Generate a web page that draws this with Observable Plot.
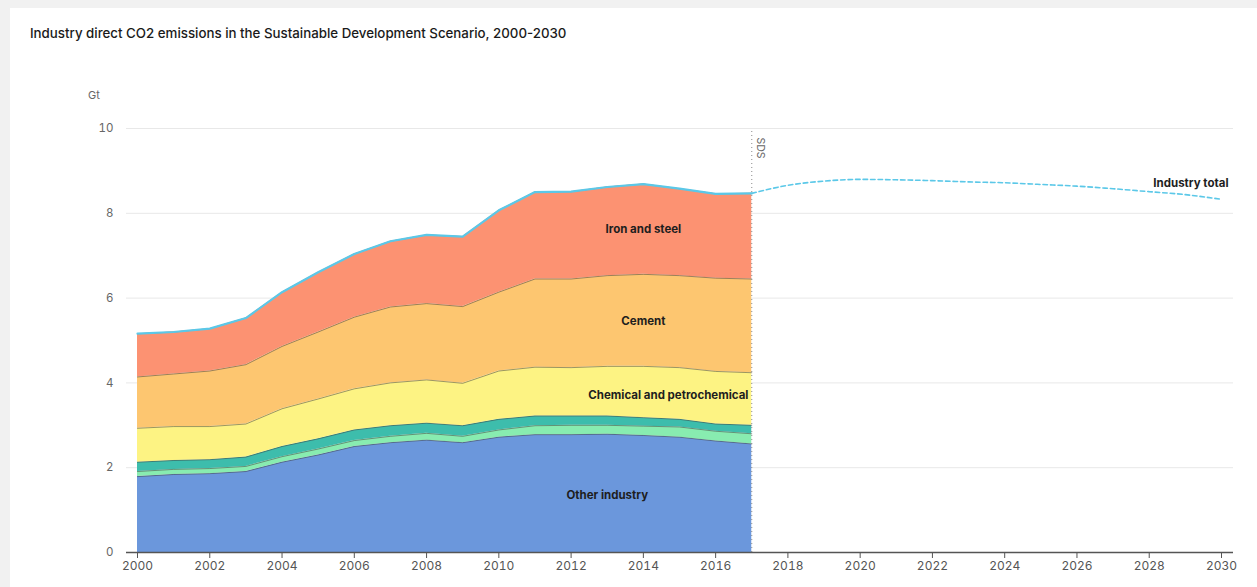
<!DOCTYPE html>
<html>
<head>
<meta charset="utf-8">
<script src="https://cdn.jsdelivr.net/npm/d3@7"></script>
<script src="https://cdn.jsdelivr.net/npm/@observablehq/plot@0.6"></script>
<style>
  html, body { margin: 0; padding: 0; width: 1257px; height: 587px; overflow: hidden; background: #f1f1f1; font-family: Inter, "Open Sans", sans-serif; }
  #card { position: absolute; left: 10px; top: 8px; right: 0; bottom: 0; background: #fff; }
  #chart { position: absolute; left: 0; top: 0; }
  #title { position: absolute; left: 30px; top: 25px; font-size: 13.3px; line-height: 16px; font-weight: 500; color: #1a1a1a; }
  #unit { position: absolute; left: 88px; top: 88px; font-size: 11px; line-height: 14px; color: #666; }
</style>
</head>
<body>
<div id="card"></div>
<div id="chart"></div>
<div id="title">Industry direct CO2 emissions in the Sustainable Development Scenario, 2000-2030</div>
<div id="unit">Gt</div>
<script>
// Historical years
const years = [2000, 2001, 2002, 2003, 2004, 2005, 2006, 2007, 2008, 2009,
               2010, 2011, 2012, 2013, 2014, 2015, 2016, 2017];

// Sectors, bottom of the stack first
const sectors = ["Other industry", "Aluminium", "Pulp and paper",
                 "Chemical and petrochemical", "Cement", "Iron and steel"];
const sectorColors = ["#6b97dc", "#88ecb0", "#3dbdac", "#fdf383", "#fdc670", "#fc9272"];

// Direct CO2 emissions by sector (Gt)
const otherIndustry = [1.79, 1.84, 1.86, 1.91, 2.13, 2.30, 2.50, 2.59, 2.65, 2.59,
                       2.72, 2.78, 2.78, 2.79, 2.76, 2.72, 2.63, 2.56];
const aluminium     = [0.12, 0.12, 0.12, 0.12, 0.13, 0.14, 0.14, 0.15, 0.16, 0.15,
                       0.17, 0.21, 0.22, 0.21, 0.22, 0.24, 0.23, 0.24];
const pulpPaper     = [0.22, 0.21, 0.21, 0.22, 0.24, 0.24, 0.25, 0.25, 0.24, 0.25,
                       0.25, 0.23, 0.22, 0.22, 0.20, 0.18, 0.17, 0.20];
const chemical      = [0.80, 0.80, 0.78, 0.78, 0.89, 0.94, 0.97, 1.01, 1.02, 1.00,
                       1.14, 1.15, 1.14, 1.17, 1.21, 1.22, 1.24, 1.24];
const cement        = [1.21, 1.24, 1.31, 1.40, 1.47, 1.58, 1.69, 1.79, 1.80, 1.81,
                       1.86, 2.08, 2.09, 2.14, 2.17, 2.17, 2.20, 2.21];
const ironSteel     = [1.02, 0.99, 1.00, 1.10, 1.28, 1.41, 1.49, 1.55, 1.62, 1.65,
                       1.93, 2.05, 2.06, 2.09, 2.13, 2.05, 1.99, 2.02];

// Sustainable Development Scenario pathway for the industry total (Gt)
const sdsYears = [2017, 2018, 2019, 2020, 2021, 2022, 2023, 2024, 2025, 2026, 2027, 2028, 2029, 2030];
const sdsTotal = [8.47, 8.66, 8.76, 8.80, 8.79, 8.77, 8.74, 8.72, 8.68, 8.64, 8.58, 8.51, 8.44, 8.33];

// Axis ticks
const xTicks = [2000, 2002, 2004, 2006, 2008, 2010, 2012, 2014, 2016, 2018,
                2020, 2022, 2024, 2026, 2028, 2030];
const yTicks = [0, 2, 4, 6, 8, 10];

// In-chart sector labels, the year they sit over and a small pixel nudge
const labelSectors = ["Iron and steel", "Cement", "Chemical and petrochemical", "Other industry"];
const labelYears   = [2014, 2014, 2014, 2013];
const labelDx      = [0, 0, 25, 0];
const labelDy      = [0, 1, 3, 2];

const series = [otherIndustry, aluminium, pulpPaper, chemical, cement, ironSteel];

const rows = [];
sectors.forEach((s, i) => years.forEach((yr, j) => rows.push({year: yr, sector: s, value: series[i][j]})));

const totals = years.map((yr, j) => ({year: yr, value: d3.sum(series, a => a[j])}));
const sds = sdsYears.map((yr, j) => ({year: yr, value: sdsTotal[j]}));

// Each label sits at the middle of its band in the stack
const labelMarks = labelSectors.map((s, k) => {
  const j = years.indexOf(labelYears[k]);
  const idx = sectors.indexOf(s);
  let base = 0;
  for (let i = 0; i < idx; i++) base += series[i][j];
  const datum = {text: s, year: labelYears[k], value: base + series[idx][j] / 2};
  return Plot.text([datum], {x: "year", y: "value", text: "text", dx: labelDx[k], dy: labelDy[k],
    fill: "#1e1e1e", fontWeight: 700, fontSize: 11.5});
});

const lineColor = "#5bc8e8";

const chart = Plot.plot({
  width: 1257,
  height: 587,
  marginLeft: 137,
  marginRight: 36,
  marginTop: 128,
  marginBottom: 35,
  style: {background: "transparent", fontFamily: "Inter, sans-serif", overflow: "visible"},
  x: {domain: [2000, 2030]},
  y: {domain: [0, 10]},
  color: {domain: sectors, range: sectorColors},
  marks: [
    Plot.ruleY(yTicks.filter(d => d > 0), {stroke: "#e8e8e8", strokeWidth: 1, insetLeft: -11, insetRight: -12}),
    Plot.areaY(rows, {x: "year", y: "value", z: "sector", fill: "sector", order: sectors}),
    Plot.lineY(rows, Plot.stackY2({x: "year", y: "value", z: "sector", order: sectors,
      stroke: "#404040", strokeOpacity: 0.65, strokeWidth: 0.8})),
    Plot.lineY(totals, {x: "year", y: "value", stroke: lineColor, strokeWidth: 2.2}),
    Plot.lineY(sds, {x: "year", y: "value", stroke: lineColor, strokeWidth: 1.6,
      strokeDasharray: "4.5,3", curve: "monotone-x"}),
    Plot.ruleX([2017], {y1: 0, y2: 10, stroke: "#8a8a8a", strokeWidth: 1, strokeDasharray: "1,3"}),
    Plot.text(["SDS"], {x: 2017, y: 10, text: d => d, rotate: 90, textAnchor: "start",
      dx: 9, dy: 9, fill: "#666", fontSize: 10.5}),
    Plot.axisY({ticks: yTicks, tickSize: 0, tickPadding: 24, label: null,
      fill: "#666", fontSize: 11.5}),
    Plot.axisX({ticks: xTicks, tickFormat: d => String(d), tickSize: 6, tickPadding: 3, label: null,
      stroke: "#555", fill: "#555", fontSize: 12}),
    Plot.ruleY([0], {stroke: "#555", strokeWidth: 1.3, insetLeft: -11, insetRight: -12}),
    ...labelMarks,
    Plot.text([sds[sds.length - 1]], {x: "year", y: "value", text: () => "Industry total",
      textAnchor: "end", dx: 7, dy: -16, fill: "#1e1e1e", fontWeight: 700, fontSize: 11.5})
  ]
});

document.getElementById("chart").append(chart);
</script>
</body>
</html>
